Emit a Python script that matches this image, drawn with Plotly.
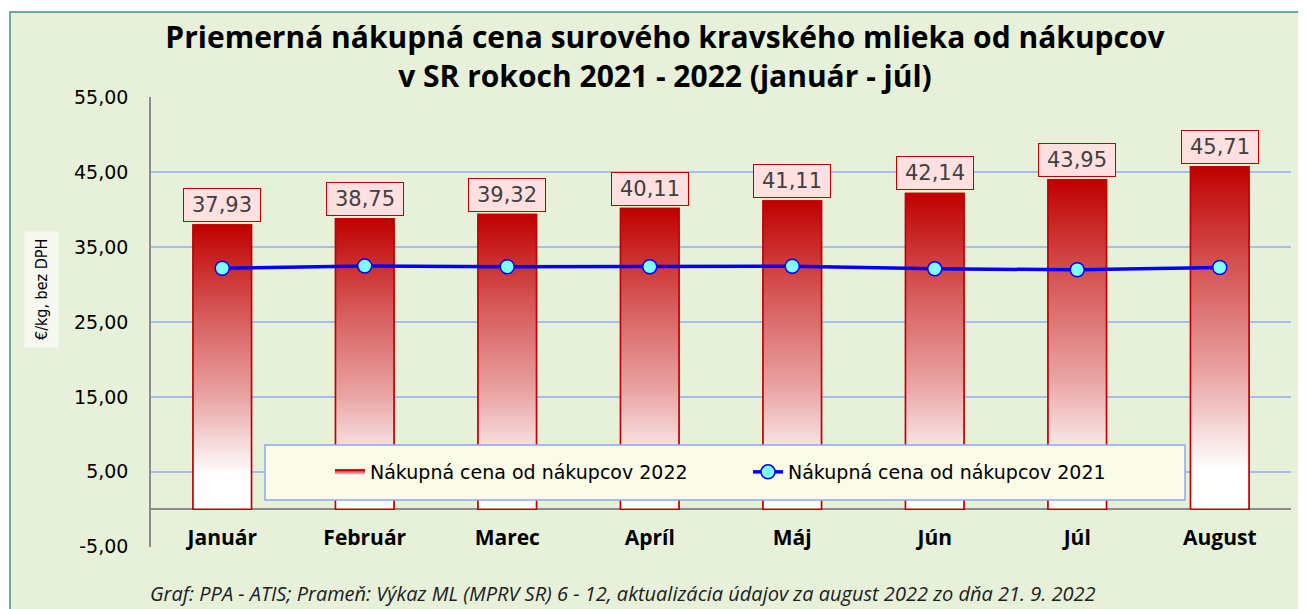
import plotly.graph_objects as go

months = ["Január", "Február", "Marec", "Apríl", "Máj", "Jún", "Júl", "August"]
price_2022 = [37.93, 38.75, 39.32, 40.11, 41.11, 42.14, 43.95, 45.71]
price_2021 = [32.15, 32.45, 32.35, 32.35, 32.42, 32.08, 31.95, 32.25]
y_ticks = [-5, 5, 15, 25, 35, 45, 55]
y_tick_labels = [f"{v:.2f}".replace(".", ",") for v in y_ticks]

name_2022 = "Nákupná cena od nákupcov 2022"
name_2021 = "Nákupná cena od nákupcov 2021"
title_text = "<b>Priemerná nákupná cena surového kravského mlieka od nákupcov<br>v SR rokoch 2021 - 2022 (január - júl)</b>"
footer_text = "<i>Graf: PPA - ATIS; Prameň: Výkaz ML (MPRV SR) 6 - 12, aktualizácia údajov za august 2022 zo dňa 21. 9. 2022</i>"

OFF = 8                      # page body margin
W, H = 1306 - OFF, 609 - OFF
PL, PR, PT, PB = 151, 1291, 97, 547   # plot area in window pixels
L, R, T, B = PL - OFF, (1306 - PR), PT - OFF, (609 - PB)
def px(x):  # window pixel x -> paper fraction
    return (x - PL) / (PR - PL)
def py(y):  # window pixel y -> paper fraction
    return (PB - y) / (PB - PT)

bar_w = 0.41
idx = list(range(len(months)))
grad = [[0, "#ffffff"], [0.12, "#ffffff"], [0.4, "#e9a2a2"], [0.7, "#d65656"], [1, "#c00000"]]

fig = go.Figure()
for i, v in zip(idx, price_2022):
    fig.add_trace(go.Scatter(
        x=[i - bar_w / 2, i + bar_w / 2, i + bar_w / 2, i - bar_w / 2, i - bar_w / 2],
        y=[0, 0, v, v, 0],
        mode="lines", fill="toself",
        fillgradient=dict(type="vertical", colorscale=grad),
        line=dict(color="#c00000", width=1.5),
        name=name_2022, legendgroup="g2022", showlegend=(i == 0),
        hoverinfo="skip",
    ))
fig.add_trace(go.Bar(
    x=idx, y=price_2022, width=bar_w, name=name_2022, showlegend=False,
    marker=dict(color="rgba(0,0,0,0)", line=dict(color="#c00000", width=1.5)),
))
fig.add_trace(go.Scatter(
    x=idx, y=price_2021, mode="lines+markers", name=name_2021,
    line=dict(color="#0000ff", width=3.5),
    marker=dict(symbol="circle", size=14, color="#80ffff", line=dict(color="#0000ff", width=1.5)),
))

for i, v in zip(idx, price_2022):
    fig.add_annotation(
        x=i, y=v, xref="x", yref="y", text=f"{v:.2f}".replace(".", ","),
        showarrow=False, yanchor="bottom", yshift=3, width=70, height=26,
        bgcolor="#ffe0e0", bordercolor="#c00000", borderwidth=1, borderpad=3,
        font=dict(family="DejaVu Sans", size=21, color="#404040"),
    )

# background + border
fig.add_shape(type="rect", xref="paper", yref="paper", layer="below",
              x0=px(10), x1=px(1330), y0=py(650), y1=py(12),
              fillcolor="#e7f1da", line=dict(color="#3f8f86", width=1.5))
# legend box
fig.add_shape(type="rect", xref="paper", yref="paper", layer="above",
              x0=px(265), x1=px(1185), y0=py(500), y1=py(445),
              fillcolor="#fbfce8", line=dict(color="#8aa8f0", width=1.5))

# y axis title
fig.add_annotation(xref="paper", yref="paper", x=px(41), y=py(290), xanchor="center", yanchor="middle",
                   text="€/kg, bez DPH", textangle=-90, showarrow=False,
                   bgcolor="#f7f9f1", borderpad=7,
                   font=dict(family="Liberation Sans Narrow, DejaVu Sans Condensed", size=16, color="black"))
# footer
fig.add_annotation(xref="paper", yref="paper", x=px(148), y=py(593), xanchor="left", yanchor="middle",
                   text=footer_text, showarrow=False,
                   font=dict(family="Open Sans", size=20, color="#202020"))

fig.update_layout(
    width=W, height=H,
    margin=dict(l=L, r=R, t=T, b=B),
    paper_bgcolor="white", plot_bgcolor="rgba(0,0,0,0)",
    title=dict(text=title_text, x=(665 - OFF) / W, xanchor="center", y=1 - 40 / H, yanchor="middle",
               font=dict(family="Open Sans", size=30, color="black")),
    showlegend=True,
    legend=dict(orientation="h", x=px(330), xanchor="left", y=py(472), yanchor="middle",
                bgcolor="rgba(0,0,0,0)", entrywidth=373, entrywidthmode="pixels",
                font=dict(family="DejaVu Sans", size=19, color="black"), itemclick=False),
    xaxis=dict(range=[-0.5, 7.5], tickmode="array", tickvals=idx, ticktext=months,
               anchor="free", position=py(523), showline=False, showgrid=False, zeroline=False,
               ticks="", tickfont=dict(family="Open Sans", size=21, color="black", weight="bold"),
               automargin=False, fixedrange=True),
    yaxis=dict(range=[-5.03, 55], tickmode="array", tickvals=y_ticks, ticktext=y_tick_labels,
               showgrid=True, gridcolor="#a6bdee", gridwidth=1.5,
               zeroline=True, zerolinecolor="#8c8c8c", zerolinewidth=1.5,
               showline=True, linecolor="#8c8c8c", linewidth=1.5,
               ticks="", ticklabelstandoff=17,
               tickfont=dict(family="DejaVu Sans", size=19, color="black"),
               automargin=False, fixedrange=True),
    barmode="overlay",
)

fig.write_html("out.html")
